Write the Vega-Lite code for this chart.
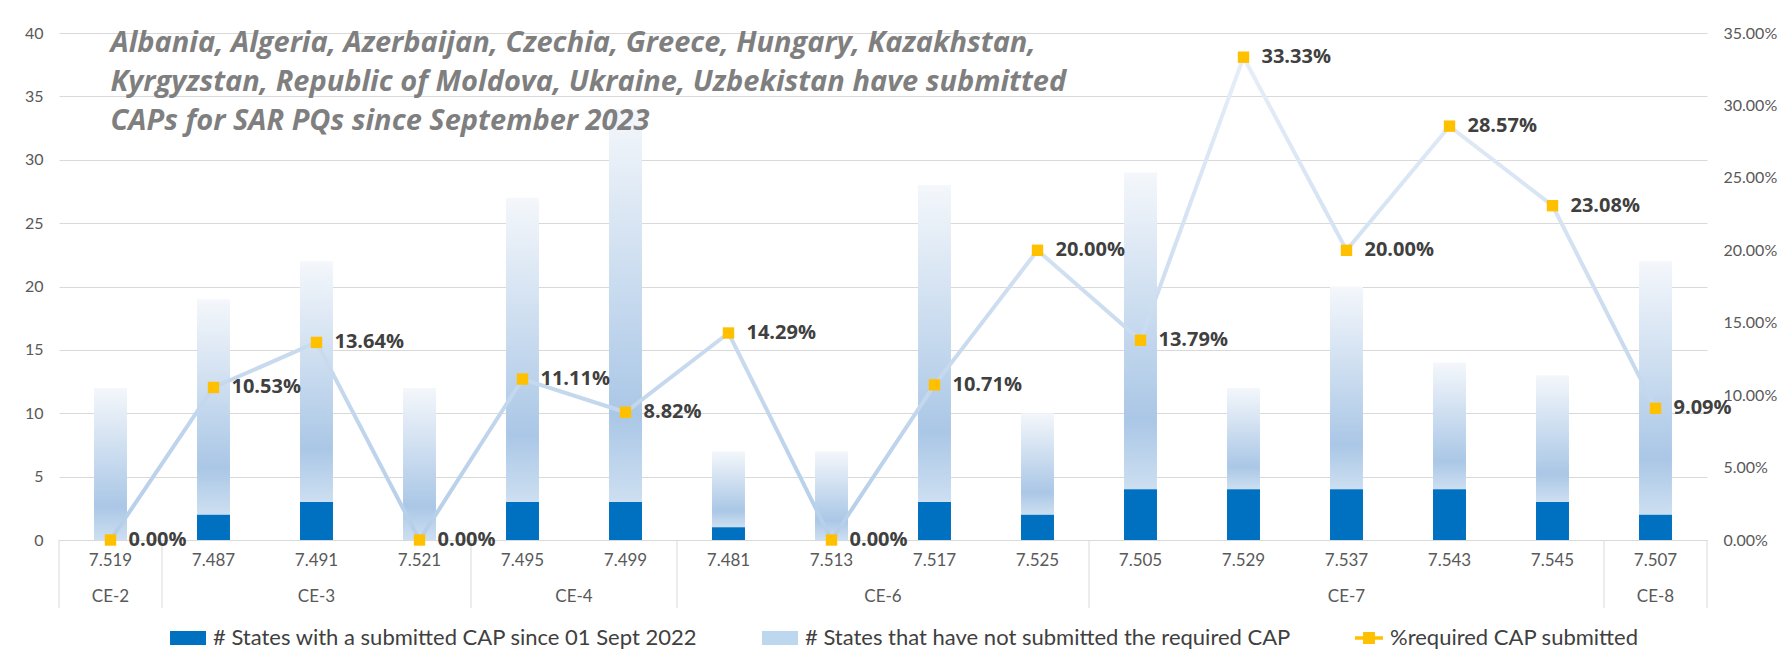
{
  "$schema": "https://vega.github.io/schema/vega-lite/v6.json",
  "width": 1648,
  "height": 507,
  "autosize": {"type": "none"},
  "padding": {"left": 59, "top": 33, "right": 80, "bottom": 125},
  "background": "white",
  "config": {"view": {"stroke": null}, "font": "Lato"},
  "datasets": {
    "pq": [
      {"pq": "7.519", "ce": "CE-2", "sub": 0, "tot": 12, "pct": 0},
      {"pq": "7.487", "ce": "CE-3", "sub": 2, "tot": 19, "pct": 0.1053},
      {"pq": "7.491", "ce": "CE-3", "sub": 3, "tot": 22, "pct": 0.1364},
      {"pq": "7.521", "ce": "CE-3", "sub": 0, "tot": 12, "pct": 0},
      {"pq": "7.495", "ce": "CE-4", "sub": 3, "tot": 27, "pct": 0.1111},
      {"pq": "7.499", "ce": "CE-4", "sub": 3, "tot": 34, "pct": 0.0882},
      {"pq": "7.481", "ce": "CE-6", "sub": 1, "tot": 7, "pct": 0.1429},
      {"pq": "7.513", "ce": "CE-6", "sub": 0, "tot": 7, "pct": 0},
      {"pq": "7.517", "ce": "CE-6", "sub": 3, "tot": 28, "pct": 0.1071},
      {"pq": "7.525", "ce": "CE-6", "sub": 2, "tot": 10, "pct": 0.2},
      {"pq": "7.505", "ce": "CE-7", "sub": 4, "tot": 29, "pct": 0.1379},
      {"pq": "7.529", "ce": "CE-7", "sub": 4, "tot": 12, "pct": 0.3333},
      {"pq": "7.537", "ce": "CE-7", "sub": 4, "tot": 20, "pct": 0.2},
      {"pq": "7.543", "ce": "CE-7", "sub": 4, "tot": 14, "pct": 0.2857},
      {"pq": "7.545", "ce": "CE-7", "sub": 3, "tot": 13, "pct": 0.2308},
      {"pq": "7.507", "ce": "CE-8", "sub": 2, "tot": 22, "pct": 0.0909}
    ],
    "ceOdd": [
      {"ce": "CE-2", "at": "7.519"},
      {"ce": "CE-3", "at": "7.491"},
      {"ce": "CE-7", "at": "7.537"},
      {"ce": "CE-8", "at": "7.507"}
    ],
    "ceEven": [
      {"ce": "CE-4", "at": "7.495"},
      {"ce": "CE-6", "at": "7.513"}
    ],
    "groupStart": [
      {"at": "7.519"}, {"at": "7.487"}, {"at": "7.495"}, {"at": "7.481"}, {"at": "7.505"}, {"at": "7.507"}
    ],
    "series": [
      {"series": "# States with a submitted CAP since 01 Sept 2022"},
      {"series": "# States that have not submitted the required CAP"},
      {"series": "%required CAP submitted"}
    ]
  },
  "layer": [
    {
      "data": {"name": "pq"},
      "layer": [
        {
          "mark": {
            "type": "bar",
            "width": {"band": 0.32},
            "fill": {
              "gradient": "linear", "x1": 0, "y1": 0, "x2": 0, "y2": 1,
              "stops": [
                {"offset": 0, "color": "#f4f7fb"},
                {"offset": 0.78, "color": "#aac7e6"},
                {"offset": 1, "color": "#cddff1"}
              ]
            }
          },
          "encoding": {
            "x": {
              "field": "pq", "type": "nominal",
              "scale": {
                "domain": ["7.519", "7.487", "7.491", "7.521", "7.495", "7.499", "7.481", "7.513", "7.517", "7.525", "7.505", "7.529", "7.537", "7.543", "7.545", "7.507"],
                "paddingInner": 0, "paddingOuter": 0
              },
              "axis": {
                "title": null, "ticks": false, "domainColor": "#d9d9d9", "domainWidth": 1,
                "labelAngle": 0, "labelFontSize": 17, "labelColor": "#595959", "labelPadding": 12
              }
            },
            "y": {
              "field": "tot", "type": "quantitative",
              "scale": {"domain": [0, 40], "nice": false},
              "axis": {
                "title": null, "values": [0, 5, 10, 15, 20, 25, 30, 35, 40],
                "grid": true, "gridColor": "#d9d9d9", "domain": false, "ticks": false,
                "labelFontSize": 16, "labelColor": "#595959", "labelPadding": 16
              }
            },
            "y2": {"field": "sub"}
          }
        },
        {
          "mark": {"type": "bar", "width": {"band": 0.32}, "color": "#0070c0"},
          "encoding": {
            "x": {"field": "pq", "type": "nominal"},
            "y": {"field": "sub", "type": "quantitative"}
          }
        },
        {
          "data": {"name": "groupStart"},
          "mark": {"type": "rule", "color": "#d9d9d9", "strokeWidth": 1, "y2Offset": 68},
          "encoding": {
            "x": {"field": "at", "type": "nominal", "bandPosition": 0},
            "y": {"datum": 0},
            "y2": {"datum": 0}
          }
        },
        {
          "data": {"values": [{"edge": "end"}]},
          "mark": {"type": "rule", "color": "#d9d9d9", "strokeWidth": 1, "y2Offset": 68},
          "encoding": {
            "x": {"datum": "7.507", "bandPosition": 1},
            "y": {"datum": 0},
            "y2": {"datum": 0}
          }
        },
        {
          "data": {"name": "ceOdd"},
          "mark": {"type": "text", "fontSize": 17, "color": "#595959", "baseline": "middle", "dy": 57},
          "encoding": {
            "x": {"field": "at", "type": "nominal", "bandPosition": 0.5},
            "y": {"datum": 0},
            "text": {"field": "ce"}
          }
        },
        {
          "data": {"name": "ceEven"},
          "mark": {"type": "text", "fontSize": 17, "color": "#595959", "baseline": "middle", "dy": 57},
          "encoding": {
            "x": {"field": "at", "type": "nominal", "bandPosition": 1},
            "y": {"datum": 0},
            "text": {"field": "ce"}
          }
        },
        {
          "data": {"values": [{"note": "Albania, Algeria, Azerbaijan, Czechia, Greece, Hungary, Kazakhstan,"}, {"note": "Kyrgyzstan, Republic of Moldova, Ukraine, Uzbekistan have submitted"}, {"note": "CAPs for SAR PQs since September 2023"}]},
          "transform": [{"aggregate": [{"op": "values", "field": "note", "as": "rows"}]}, {"calculate": "pluck(datum.rows, 'note')", "as": "lines"}],
          "mark": {
            "type": "text", "align": "left", "baseline": "alphabetic",
            "font": "Open Sans", "fontSize": 29, "fontWeight": "bold", "fontStyle": "italic",
            "color": "#7f7f7f", "dy": 19, "lineHeight": 39
          },
          "encoding": {
            "x": {"datum": "7.519"},
            "y": {"datum": 40},
            "text": {"field": "lines"}
          }
        }
      ]
    },
    {
      "data": {"name": "pq"},
      "layer": [
        {
          "mark": {
            "type": "line", "strokeWidth": 4,
            "stroke": {
              "gradient": "linear", "x1": 0, "y1": 0, "x2": 0, "y2": 1,
              "stops": [
                {"offset": 0, "color": "#e6eef8"},
                {"offset": 1, "color": "#b5cee9"}
              ]
            }
          },
          "encoding": {
            "x": {"field": "pq", "type": "nominal"},
            "y": {
              "field": "pct", "type": "quantitative",
              "scale": {"domain": [0, 0.35], "nice": false},
              "axis": {
                "orient": "right", "title": null,
                "values": [0, 0.05, 0.1, 0.15, 0.2, 0.25, 0.3, 0.35], "format": ".2%",
                "grid": false, "domain": false, "ticks": false,
                "labelFontSize": 16, "labelColor": "#595959", "labelPadding": 16
              }
            }
          }
        },
        {
          "mark": {"type": "point", "shape": "square", "filled": true, "color": "#ffc000", "size": 130, "opacity": 1},
          "encoding": {
            "x": {"field": "pq", "type": "nominal"},
            "y": {"field": "pct", "type": "quantitative"}
          }
        },
        {
          "mark": {
            "type": "text", "align": "left", "baseline": "middle", "dx": 18,
            "font": "Open Sans", "fontWeight": "bold", "fontSize": 20, "color": "#404040"
          },
          "encoding": {
            "x": {"field": "pq", "type": "nominal"},
            "y": {"field": "pct", "type": "quantitative"},
            "text": {"field": "pct", "type": "quantitative", "format": ".2%"}
          }
        }
      ]
    },
    {
      "data": {"name": "series"},
      "mark": {"type": "point", "shape": "square", "filled": true, "opacity": 0},
      "encoding": {
        "color": {
          "field": "series", "type": "nominal",
          "scale": {
            "domain": ["# States with a submitted CAP since 01 Sept 2022", "# States that have not submitted the required CAP", "%required CAP submitted"],
            "range": ["#0070c0", "#bdd7ee", "#ffc000"]
          },
          "legend": {
            "orient": "none", "legendX": 129, "legendY": 594,
            "direction": "horizontal", "title": null,
            "symbolType": "M-4.14,-1H1V1H-4.14Z", "symbolSize": 196,
            "symbolOpacity": 1, "symbolStrokeWidth": 0,
            "labelFontSize": 22, "labelColor": "#404040", "labelOffset": 3,
            "columnPadding": 64, "labelLimit": 0,
            "encode": {
              "symbols": {
                "update": {
                  "opacity": {"value": 1},
                  "shape": [
                    {"test": "datum.value === '%required CAP submitted'", "value": "M-3,-0.25H1V0.25H-3Z M-1.85,-0.85H-0.15V0.85H-1.85Z"},
                    {"value": "M-4.14,-1H1V1H-4.14Z"}
                  ],
                  "fill": [
                    {"test": "datum.value === '# States with a submitted CAP since 01 Sept 2022'", "value": "#0070c0"},
                    {"test": "datum.value === '# States that have not submitted the required CAP'", "value": {
                      "gradient": "linear", "x1": 0, "y1": 0, "x2": 0, "y2": 1,
                      "stops": [{"offset": 0, "color": "#eef4fa"}, {"offset": 1, "color": "#b0cbe7"}]
                    }},
                    {"value": {
                      "gradient": "linear", "x1": 0, "y1": 0, "x2": 1, "y2": 0,
                      "stops": [
                        {"offset": 0, "color": "#c5d9ef"}, {"offset": 0.2875, "color": "#c5d9ef"},
                        {"offset": 0.2875, "color": "#ffc000"}, {"offset": 0.7125, "color": "#ffc000"},
                        {"offset": 0.7125, "color": "#c5d9ef"}, {"offset": 1, "color": "#c5d9ef"}
                      ]
                    }}
                  ]
                }
              }
            }
          }
        }
      }
    }
  ],
  "resolve": {"scale": {"y": "independent"}}
}
